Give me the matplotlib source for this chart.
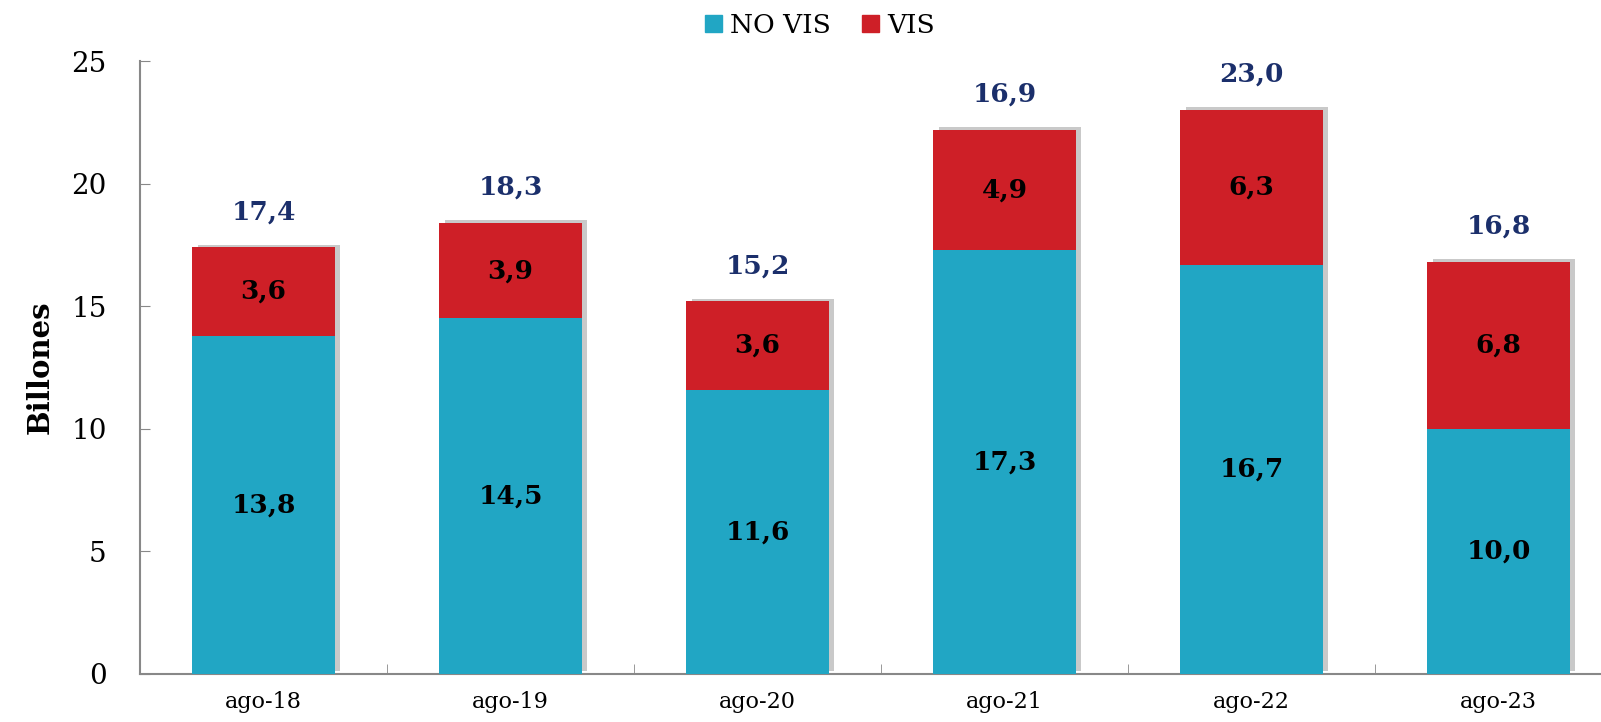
import matplotlib.pyplot as plt
import matplotlib.patheffects as pe
from matplotlib.patches import Patch
import numpy as np

# Datos
categorias = ['ago-18', 'ago-19', 'ago-20', 'ago-21', 'ago-22', 'ago-23']
no_vis = [13.8, 14.5, 11.6, 17.3, 16.7, 10.0]
vis = [3.6, 3.9, 3.6, 4.9, 6.3, 6.8]
totales = [17.4, 18.3, 15.2, 16.9, 23.0, 16.8]

c_novis = '#21A6C4'
c_vis = '#CE1F27'
c_total = '#1B2F6B'

plt.rcParams['font.family'] = ['DejaVu Serif']

fig = plt.figure(figsize=(16.01, 7.22), dpi=100)
ax = fig.add_axes([140 / 1601, 48 / 722, 1482 / 1601, 613 / 722])

x = np.arange(len(categorias))
ancho = 0.575
sombra = [pe.SimplePatchShadow(offset=(4, 2), shadow_rgbFace='#888888', alpha=0.45), pe.Normal()]

ax.bar(x, no_vis, ancho, color=c_novis, path_effects=sombra, zorder=3)
ax.bar(x, vis, ancho, bottom=no_vis, color=c_vis, path_effects=sombra, zorder=3)

def fmt(v):
    return f'{v:.1f}'.replace('.', ',')

for i in range(len(categorias)):
    ax.text(x[i], no_vis[i] / 2, fmt(no_vis[i]), ha='center', va='center',
            fontsize=19, fontweight='bold', color='black', zorder=4)
    ax.text(x[i], no_vis[i] + vis[i] / 2, fmt(vis[i]), ha='center', va='center',
            fontsize=19, fontweight='bold', color='black', zorder=4)
    arriba = no_vis[i] + vis[i]
    ax.text(x[i], arriba + 1.45, fmt(totales[i]), ha='center', va='center',
            fontsize=19, fontweight='bold', color=c_total, zorder=4)

ax.set_xlim(-0.5, len(categorias) - 0.5)
ax.set_ylim(0, 25)
ax.set_yticks([0, 5, 10, 15, 20, 25])
ax.set_xticks(x)
ax.set_xticklabels(categorias, fontsize=16)
ax.set_xticks(np.arange(len(categorias) + 1) - 0.5, minor=True)
ax.tick_params(axis='x', which='major', length=0, pad=12)
ax.tick_params(axis='x', which='minor', direction='in', length=7, color='#888888')
ax.tick_params(axis='y', direction='in', length=7, color='#888888', labelsize=20, pad=24)

for s in ['top', 'right']:
    ax.spines[s].set_visible(False)
for s in ['left', 'bottom']:
    ax.spines[s].set_color('#888888')
    ax.spines[s].set_linewidth(1.5)

ax.set_ylabel('Billones', fontsize=21, fontweight='bold', labelpad=12)

handles = [Patch(color=c_novis, label='NO VIS'), Patch(color=c_vis, label='VIS')]
fig.legend(handles=handles, loc='upper center', bbox_to_anchor=(0.512, 1.015), ncol=2,
           frameon=False, fontsize=19, handlelength=0.65, handleheight=0.65,
           handletextpad=0.3, columnspacing=1.2)

fig.savefig('out.png', dpi=100)
